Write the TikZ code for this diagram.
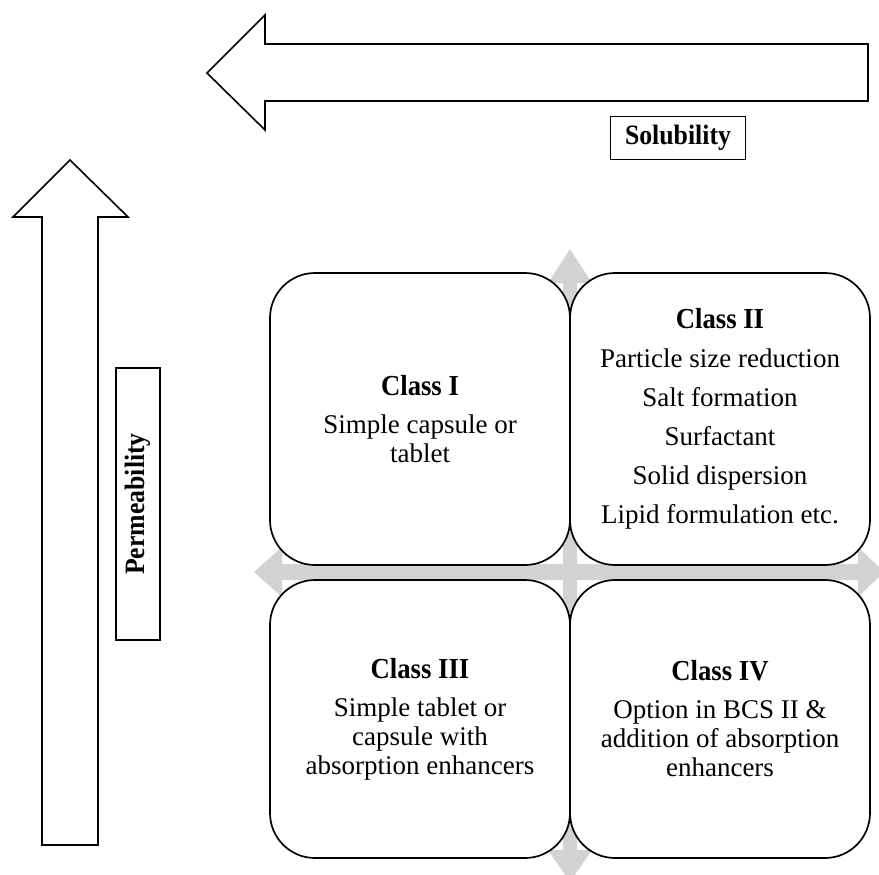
\documentclass[tikz,border=0pt]{standalone}
\usepackage{fontspec}
\setmainfont{Liberation Serif}
\newfontfamily\condfont[FakeStretch=0.92]{Liberation Serif}
\usetikzlibrary{positioning}
\definecolor{crossgray}{RGB}{209,211,212}
\newcommand{\classhead}[1]{{\condfont\bfseries\fontsize{29}{29}\selectfont #1}}
\tikzset{
  classbox/.style={draw,line width=1.7pt,fill=white,rounded corners=45pt,outer sep=0pt,
    align=center,minimum width=300pt,font=\fontsize{27}{29}\selectfont},
  labelbox/.style={draw,line width=1.2pt,fill=white,font=\condfont\bfseries\fontsize{28}{28}\selectfont}
}

\begin{document}
\begin{tikzpicture}[x=1pt,y=-1pt]
\useasboundingbox (0,0) rectangle (879,875);

%solubility arrow
\draw[line width=1.6pt] (207,73) -- (265,15) -- (265,44) -- (868,44) -- (868,101) -- (265,101) -- (265,130) -- cycle;
\node[labelbox,minimum width=135pt,minimum height=43pt] (sol) at (678,138) {Solubility};

%permeability arrow
\draw[line width=1.6pt] (70,160) -- (128,217) -- (98,217) -- (98,845) -- (42,845) -- (42,217) -- (13,217) -- cycle;
\node[labelbox,rotate=90,minimum width=272pt,minimum height=44pt] (perm) at (138,504) {Permeability};

%gray cross
\fill[crossgray] (570,249) -- (592,283) -- (577,283) -- (577,850) -- (592,850) -- (570,882)
  -- (548,850) -- (563,850) -- (563,283) -- (548,283) -- cycle;
\fill[crossgray] (254,572) -- (282,547) -- (282,564) -- (858,564) -- (858,547) -- (884,572)
  -- (858,597) -- (858,580) -- (282,580) -- (282,597) -- cycle;

%classes
\node[classbox,minimum height=292pt] (c1) at (420,419)
  {\classhead{Class I}\\[9pt] Simple capsule or\\ tablet};
\node[classbox,minimum height=292pt,right=0pt of c1] (c2)
  {\classhead{Class II}\\[10pt] Particle size reduction\\[10pt] Salt formation\\[10pt] Surfactant\\[10pt]
   Solid dispersion\\[10pt] Lipid formulation etc.};
\node[classbox,minimum height=278pt,below=15pt of c1] (c3)
  {\classhead{Class III}\\[9pt] Simple tablet or\\ capsule with\\ absorption enhancers};
\node[classbox,minimum height=278pt,right=0pt of c3] (c4)
  {\classhead{Class IV}\\[9pt] Option in BCS II \&\\ addition of absorption\\ enhancers};

\end{tikzpicture}
\end{document}
